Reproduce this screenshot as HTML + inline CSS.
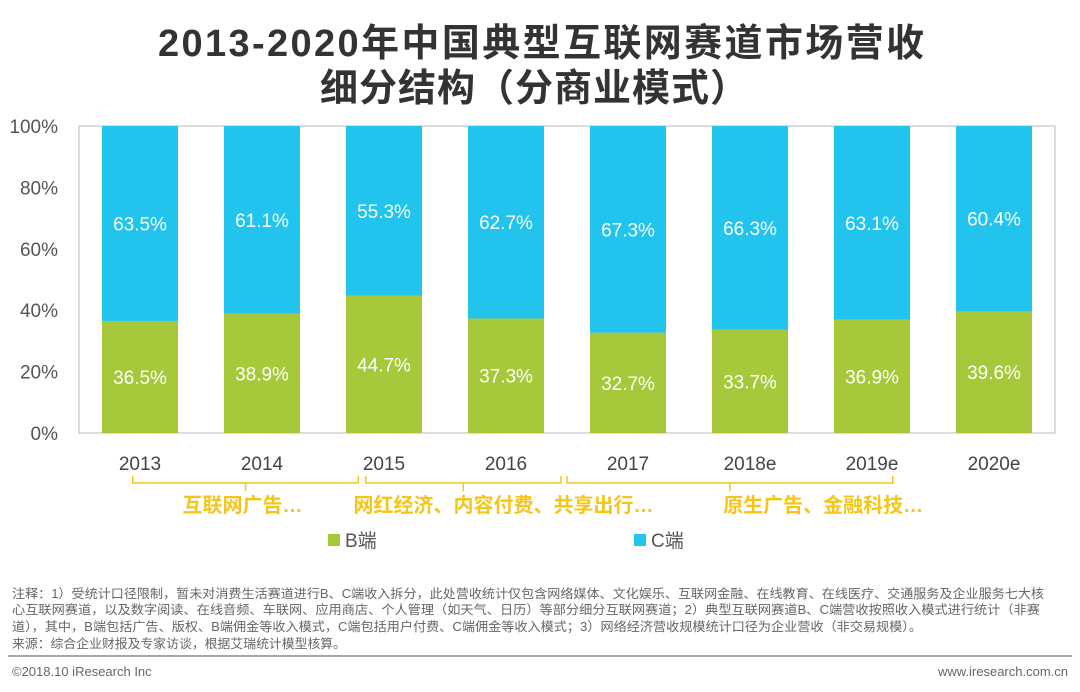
<!DOCTYPE html>
<html><head><meta charset="utf-8"><style>
body{margin:0;width:1080px;height:687px;background:#fff;overflow:hidden;font-family:"Liberation Sans","Noto Sans CJK SC",sans-serif;}
svg text{font-family:"Liberation Sans","Noto Sans CJK SC",sans-serif;}
</style></head><body>
<svg id="chart" width="1080" height="687" xmlns="http://www.w3.org/2000/svg">
<text x="541" y="56" text-anchor="middle" font-size="38" font-weight="bold" fill="#333" textLength="766" lengthAdjust="spacing">2013-2020年中国典型互联网赛道市场营收</text>
<text x="534" y="101" text-anchor="middle" font-size="38" font-weight="bold" fill="#333" textLength="428" lengthAdjust="spacing">细分结构（分商业模式）</text>
<g id="plot"></g>
<g>
<rect x="328" y="534" width="12" height="12" fill="#a5c93a"/>
<text x="345" y="547" font-size="19" fill="#555">B端</text>
<rect x="634" y="534" width="12" height="12" fill="#22c4ee"/>
<text x="651" y="547" font-size="19" fill="#555">C端</text>
</g>
<g font-size="12.5" fill="#666">
<text x="12" y="598" textLength="1032" lengthAdjust="spacingAndGlyphs">注释：1）受统计口径限制，暂未对消费生活赛道进行B、C端收入拆分，此处营收统计仅包含网络媒体、文化娱乐、互联网金融、在线教育、在线医疗、交通服务及企业服务七大核</text>
<text x="12" y="614" textLength="1028" lengthAdjust="spacingAndGlyphs">心互联网赛道，以及数字阅读、在线音频、车联网、应用商店、个人管理（如天气、日历）等部分细分互联网赛道；2）典型互联网赛道B、C端营收按照收入模式进行统计（非赛</text>
<text x="12" y="631" textLength="910" lengthAdjust="spacingAndGlyphs">道），其中，B端包括广告、版权、B端佣金等收入模式，C端包括用户付费、C端佣金等收入模式；3）网络经济营收规模统计口径为企业营收（非交易规模）。</text>
<text x="12" y="648" textLength="334" lengthAdjust="spacingAndGlyphs">来源：综合企业财报及专家访谈，根据艾瑞统计模型核算。</text>
</g>
<line x1="8" y1="656" x2="1072" y2="656" stroke="#888" stroke-width="1.5"/>
<text x="12" y="676" font-size="13" fill="#666">©2018.10 iResearch Inc</text>
<text x="1068" y="676" text-anchor="end" font-size="13" fill="#666">www.iresearch.com.cn</text>
</svg>
<script>
const categories=["2013","2014","2015","2016","2017","2018e","2019e","2020e"];
const bValues=[36.5,38.9,44.7,37.3,32.7,33.7,36.9,39.6];
const cValues=[63.5,61.1,55.3,62.7,67.3,66.3,63.1,60.4];
const yTicks=[0,20,40,60,80,100];
const groupLabels=["互联网广告…","网红经济、内容付费、共享出行…","原生广告、金融科技…"];
const groupStart=[0.44,2.35,4.0];
const groupEnd=[2.29,3.95,6.67];
const groupLabelPos=[1.34,3.48,6.1];
const NS="http://www.w3.org/2000/svg";
const g=document.getElementById('plot');
const X0=79,X1=1055,Y0=433,Y1=126,step=(X1-X0)/categories.length,bw=76;
const x=i=>X0+step*(i+0.5);
const xf=f=>X0+step*f;
const y=v=>Y0-(Y0-Y1)*v/100;
function el(t,a,txt){const e=document.createElementNS(NS,t);for(const k in a)e.setAttribute(k,a[k]);if(txt!==undefined)e.textContent=txt;g.appendChild(e);return e;}
let f=el('rect',{x:X0,y:Y1,width:X1-X0,height:Y0-Y1,fill:'none',stroke:'#bbb','stroke-width':1});


yTicks.forEach(t=>{const e=el('text',{x:58,y:y(t)+7,'text-anchor':'end','font-size':19,fill:'#555'},t+'%');

});
categories.forEach((c,i)=>{
const b=bValues[i],cv=cValues[i];
let r=el('rect',{x:x(i)-bw/2,y:y(b),width:bw,height:Y0-y(b),fill:'#a5c93a'});


let r2=el('rect',{x:x(i)-bw/2,y:y(b+cv),width:bw,height:y(b)-y(b+cv),fill:'#22c4ee'});


let t1=el('text',{x:x(i),y:(y(b)+Y0)/2+7,'text-anchor':'middle','font-size':19,fill:'#fff'},b.toFixed(1)+'%');


let t2=el('text',{x:x(i),y:(y(b)+y(b+cv))/2+7,'text-anchor':'middle','font-size':19,fill:'#fff'},cv.toFixed(1)+'%');


let xl=el('text',{x:x(i),y:470,'text-anchor':'middle','font-size':19,fill:'#444'},c);


});
groupLabels.forEach((lab,k)=>{
const a=xf(groupStart[k]),b=xf(groupEnd[k]),mid=(a+b)/2;
let p=el('path',{d:`M${a} 476 V483 H${b} V476 M${mid} 483 V491`,fill:'none',stroke:'#f5c518','stroke-width':1.5});


let t=el('text',{x:xf(groupLabelPos[k]),y:512,'text-anchor':'middle','font-size':20,'font-weight':'bold',fill:'#f5c518'},lab);


});
</script>
</body></html>
